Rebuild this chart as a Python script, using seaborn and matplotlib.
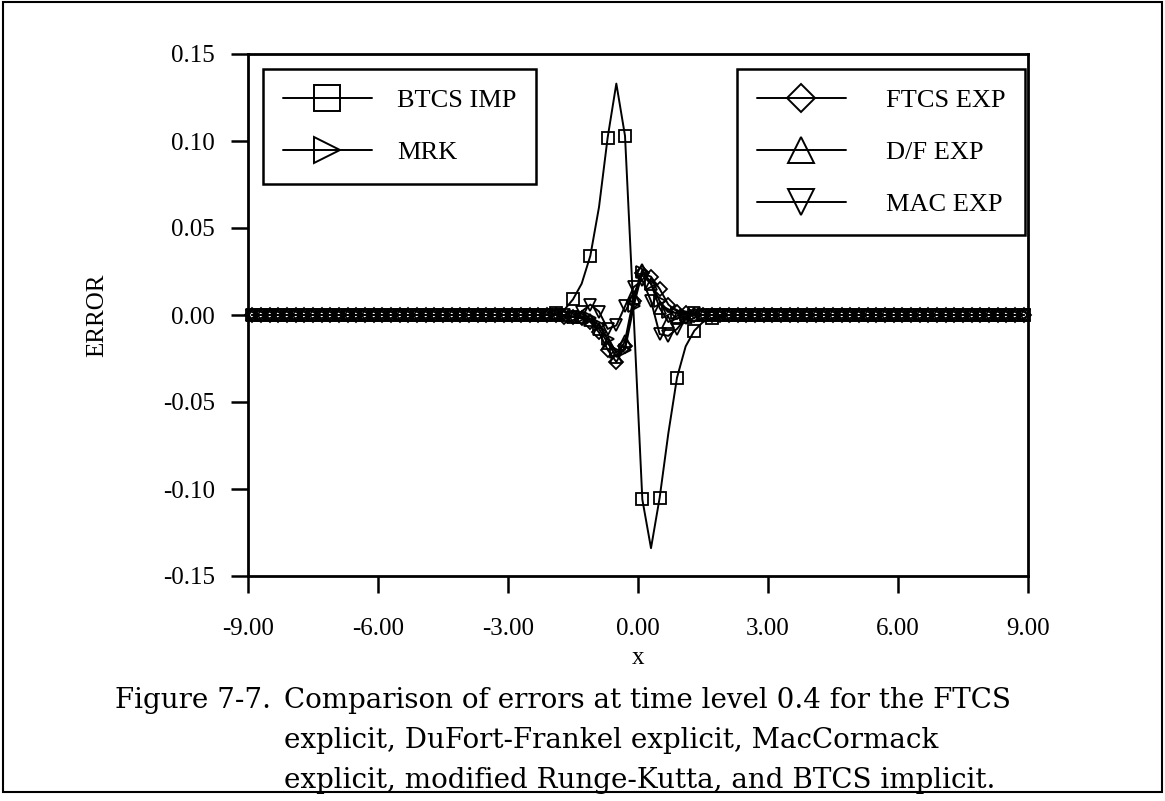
import numpy as np
import pandas as pd
import seaborn as sns
import matplotlib.pyplot as plt
from matplotlib.lines import Line2D
from matplotlib.patches import Rectangle

# grid points away from the pulse (all errors are ~0 there)
x_left = [round(-8.9 + 0.2 * i, 1) for i in range(34)]
x_mid = [-2.1, -1.9, -1.7, -1.5, -1.3, -1.1, -0.9, -0.7, -0.5, -0.3, -0.1,
         0.1, 0.3, 0.5, 0.7, 0.9, 1.1, 1.3, 1.5, 1.7, 1.9, 2.1]
x_right = [round(2.3 + 0.2 * i, 1) for i in range(34)]

# errors near the pulse
btcs_mid = [0.0005, 0.001, 0.003, 0.009, 0.018, 0.034, 0.062, 0.102, 0.133, 0.103, 0.0,
            -0.106, -0.134, -0.105, -0.068, -0.036, -0.018, -0.009, -0.004, -0.002, -0.001, 0.0]
ftcs_mid = [0.0, 0.0, -0.001, -0.001, -0.002, -0.004, -0.010, -0.020, -0.027, -0.018, 0.008,
            0.024, 0.022, 0.015, 0.006, 0.002, 0.001, 0.0, 0.0, 0.0, 0.0, 0.0]
df_mid = [0.0, 0.0, 0.0, -0.001, -0.001, -0.003, -0.008, -0.016, -0.024, -0.015, 0.010,
          0.026, 0.018, 0.004, -0.004, -0.002, -0.001, 0.0, 0.0, 0.0, 0.0, 0.0]
mac_mid = [0.0, 0.0, 0.0, -0.001, 0.002, 0.006, 0.002, -0.008, -0.006, 0.005, 0.016,
           0.020, 0.008, -0.011, -0.012, -0.008, -0.002, 0.001, 0.0, 0.0, 0.0, 0.0]
mrk_mid = [0.0, 0.0, 0.0, -0.001, -0.001, -0.002, -0.006, -0.014, -0.021, -0.020, 0.005,
           0.025, 0.018, 0.008, 0.002, 0.001, 0.0, 0.0, 0.0, 0.0, 0.0, 0.0]

x = x_left + x_mid + x_right
zeros_l = [0.0] * len(x_left)
zeros_r = [0.0] * len(x_right)

series = {
    "BTCS IMP": btcs_mid,
    "MRK": mrk_mid,
    "FTCS EXP": ftcs_mid,
    "D/F EXP": df_mid,
    "MAC EXP": mac_mid,
}
markers = {"BTCS IMP": "s", "MRK": ">", "FTCS EXP": "D", "D/F EXP": "^", "MAC EXP": "v"}
msizes = {"BTCS IMP": 9, "MRK": 9, "FTCS EXP": 7, "D/F EXP": 9, "MAC EXP": 9}
every = {"BTCS IMP": (1, 2), "MRK": 1, "FTCS EXP": 1, "D/F EXP": 1, "MAC EXP": 1}

rows = []
for name, mid in series.items():
    for xi, yi in zip(x, zeros_l + mid + zeros_r):
        rows.append({"x": xi, "error": yi, "method": name})
data = pd.DataFrame(rows)

sns.set_style("ticks")
plt.rcParams["font.family"] = ["Liberation Serif", "DejaVu Serif"]
plt.rcParams["text.color"] = "black"
plt.rcParams["axes.labelcolor"] = "black"

fig = plt.figure(figsize=(11.65, 8.01), dpi=100)
ax = fig.add_axes([248 / 1165, 1 - 576 / 801, 780 / 1165, 522 / 801])

for name in series:
    sub = data[data["method"] == name]
    sns.lineplot(data=sub, x="x", y="error", ax=ax, color="black", lw=1.4,
                 marker=markers[name], markersize=msizes[name], markerfacecolor="none",
                 markeredgecolor="black", markeredgewidth=1.3,
                 markevery=every[name], legend=False, sort=False, clip_on=False)

ax.set_xlim(-9, 9)
ax.set_ylim(-0.15, 0.15)
ax.set_xticks([-9, -6, -3, 0, 3, 6, 9])
ax.set_xticklabels(["-9.00", "-6.00", "-3.00", "0.00", "3.00", "6.00", "9.00"])
ax.set_yticks([-0.15, -0.10, -0.05, 0.0, 0.05, 0.10, 0.15])
ax.set_yticklabels(["-0.15", "-0.10", "-0.05", "0.00", "0.05", "0.10", "0.15"])
ax.tick_params(direction="out", length=12, width=1.8, labelsize=18, colors="black")
ax.tick_params(axis="x", pad=18)
ax.tick_params(axis="y", pad=12)
for s in ax.spines.values():
    s.set_visible(True)
    s.set_linewidth(2)
    s.set_color("black")
ax.set_xlabel("x", fontsize=18)
ax.set_ylabel("ERROR", fontsize=18)
ax.xaxis.set_label_coords(0.5, -(658 - 576) / 522, transform=ax.transAxes)
ax.yaxis.set_label_coords(-(248 - 97) / 780, 0.5, transform=ax.transAxes)
ax.xaxis.label.set_va("center")
ax.yaxis.label.set_va("center")


def handle(name):
    return Line2D([], [], color="black", lw=1.4, marker=markers[name], markersize=msizes[name],
                  markerfacecolor="none", markeredgewidth=1.4, label=name)


leg_kw = dict(frameon=True, fancybox=False, edgecolor="black", framealpha=1, fontsize=19,
              handlelength=3.4, markerscale=2.1, borderaxespad=0, labelspacing=1.08,
              borderpad=0.74, loc="upper left", labelcolor="black")
leg1 = ax.legend(handles=[handle("BTCS IMP"), handle("MRK")],
                 bbox_to_anchor=((263 - 248) / 780, (576 - 69) / 522),
                 handletextpad=0.95, **leg_kw)
leg1.get_frame().set_linewidth(1.8)
ax.add_artist(leg1)
leg2 = ax.legend(handles=[handle("FTCS EXP"), handle("D/F EXP"), handle("MAC EXP")],
                 bbox_to_anchor=((737 - 248) / 780, (576 - 69) / 522),
                 handletextpad=1.5, **leg_kw)
leg2.get_frame().set_linewidth(1.8)

cap_font = ["DejaVu Serif"]
cap_size = 20
fig.text(115 / 1165, 1 - 701 / 801, "Figure 7-7.", fontsize=cap_size, family=cap_font, va="center")
fig.text(284 / 1165, 1 - 701 / 801, "Comparison of errors at time level 0.4 for the FTCS",
         fontsize=cap_size, family=cap_font, va="center")
fig.text(284 / 1165, 1 - 741 / 801, "explicit, DuFort-Frankel explicit, MacCormack",
         fontsize=cap_size, family=cap_font, va="center")
fig.text(284 / 1165, 1 - 780 / 801, "explicit, modified Runge-Kutta, and BTCS implicit.",
         fontsize=cap_size, family=cap_font, va="center")

fig.patches.append(Rectangle((0.003, 0.011), 0.994, 0.986, transform=fig.transFigure,
                             fill=False, edgecolor="black", lw=1.5))

fig.savefig("out.png", dpi=100)
